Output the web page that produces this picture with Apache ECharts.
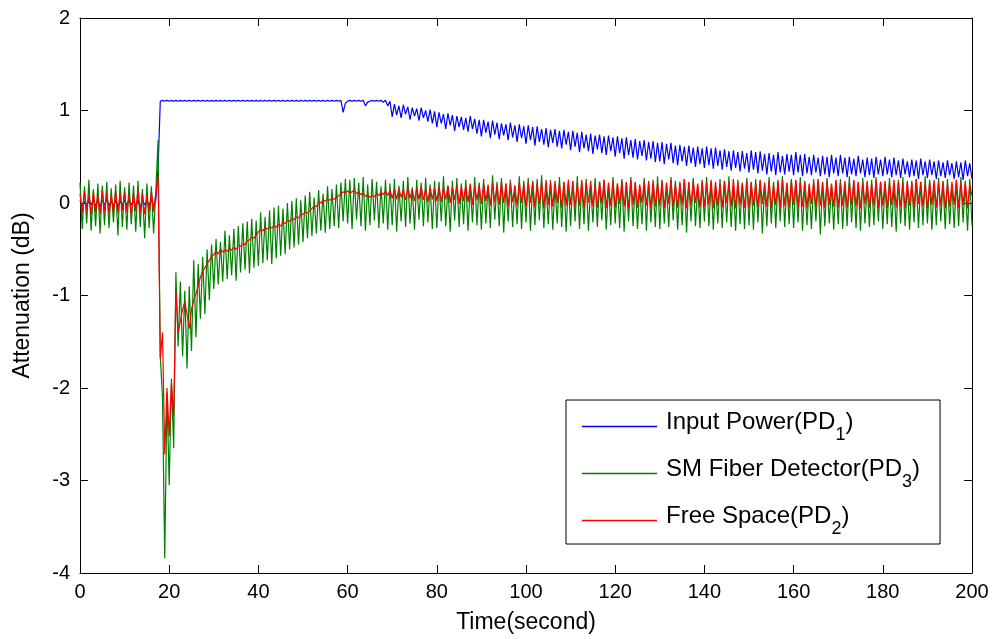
<!DOCTYPE html>
<html>
<head>
<meta charset="utf-8">
<script src="https://cdn.jsdelivr.net/npm/echarts@6/dist/echarts.min.js"></script>
<style>
  html, body { margin: 0; padding: 0; background: #fff; }
  #chart { width: 997px; height: 639px; }
</style>
</head>
<body>
<div id="chart"></div>
<script>
// samples every 0.5 s, t = 0 .. 200
var step = 0.5;
var xTicks = [0, 20, 40, 60, 80, 100, 120, 140, 160, 180, 200];
var yTicks = [-4, -3, -2, -1, 0, 1, 2];
var seriesNames = ['Input Power(PD1)', 'SM Fiber Detector(PD3)', 'Free Space(PD2)'];

var inputPower = [
  0.03,-0.03,0.02,-0.04,0.04,-0.02,0.03,-0.03,0.02,-0.04,0.03,-0.02,0.04,-0.03,0.02,-0.03,0.03,-0.04,0.02,-0.02,
  0.03,-0.03,0.04,-0.02,0.02,-0.03,0.03,-0.04,0.03,-0.02,0.02,-0.03,0.04,-0.03,0.03,0.37,1.10,1.11,1.10,1.11,
  1.10,1.11,1.10,1.11,1.10,1.11,1.10,1.11,1.10,1.11,1.10,1.11,1.10,1.11,1.10,1.11,1.10,1.11,1.10,1.11,
  1.10,1.11,1.10,1.11,1.10,1.11,1.10,1.11,1.10,1.11,1.10,1.11,1.10,1.11,1.10,1.11,1.10,1.11,1.10,1.11,
  1.10,1.11,1.10,1.11,1.10,1.11,1.10,1.11,1.10,1.11,1.10,1.11,1.10,1.11,1.10,1.11,1.10,1.11,1.10,1.11,
  1.10,1.11,1.10,1.11,1.10,1.11,1.10,1.11,1.10,1.11,1.10,1.11,1.10,1.11,1.10,1.11,1.10,1.11,0.98,1.08,
  1.10,1.11,1.10,1.11,1.10,1.11,1.10,1.11,1.05,1.09,1.10,1.11,1.10,1.11,1.10,1.11,1.09,1.11,1.05,1.10,
  0.93,1.07,0.95,1.05,0.92,1.06,0.96,1.04,0.90,1.03,0.94,1.02,0.89,1.03,0.92,1.00,0.88,1.01,0.86,0.99,
  0.82,0.98,0.86,0.96,0.80,0.97,0.84,0.95,0.78,0.94,0.82,0.93,0.79,0.92,0.77,0.94,0.80,0.91,0.75,0.90,
  0.72,0.90,0.76,0.88,0.70,0.89,0.74,0.87,0.69,0.86,0.73,0.85,0.68,0.87,0.71,0.84,0.66,0.85,0.70,0.83,
  0.64,0.84,0.68,0.82,0.62,0.83,0.66,0.80,0.63,0.81,0.60,0.79,0.65,0.80,0.61,0.78,0.59,0.79,0.63,0.77,
  0.57,0.78,0.61,0.76,0.55,0.77,0.59,0.74,0.56,0.75,0.53,0.73,0.58,0.74,0.54,0.72,0.52,0.73,0.56,0.71,
  0.50,0.72,0.54,0.70,0.48,0.71,0.52,0.68,0.49,0.69,0.47,0.67,0.51,0.68,0.46,0.66,0.48,0.67,0.44,0.65,
  0.45,0.66,0.42,0.64,0.47,0.65,0.43,0.62,0.41,0.63,0.45,0.61,0.40,0.62,0.43,0.60,0.39,0.61,0.42,0.59,
  0.38,0.61,0.41,0.59,0.37,0.60,0.40,0.57,0.36,0.58,0.39,0.56,0.35,0.57,0.38,0.55,0.34,0.56,0.37,0.54,
  0.33,0.57,0.36,0.55,0.32,0.56,0.35,0.53,0.31,0.54,0.34,0.52,0.30,0.55,0.33,0.51,0.31,0.53,0.34,0.52,
  0.30,0.55,0.33,0.52,0.29,0.53,0.32,0.50,0.30,0.52,0.33,0.49,0.29,0.51,0.31,0.50,0.28,0.52,0.32,0.49,
  0.29,0.52,0.32,0.49,0.28,0.50,0.31,0.48,0.29,0.51,0.32,0.47,0.28,0.49,0.30,0.48,0.27,0.50,0.31,0.47,
  0.29,0.50,0.31,0.47,0.28,0.49,0.30,0.46,0.27,0.48,0.31,0.45,0.28,0.47,0.29,0.46,0.26,0.48,0.30,0.45,
  0.27,0.47,0.30,0.45,0.26,0.46,0.29,0.44,0.27,0.46,0.30,0.43,0.26,0.45,0.28,0.44,0.25,0.46,0.29,0.43,
  0.26
];

var smFiber = [
  0.22,-0.28,0.18,-0.22,0.25,-0.30,0.15,-0.25,0.21,-0.33,0.19,-0.24,0.23,-0.27,0.16,-0.21,0.20,-0.35,0.24,-0.26,
  0.17,-0.29,0.22,-0.23,0.19,-0.31,0.24,-0.26,0.15,-0.38,0.21,-0.27,0.18,-0.33,0.12,0.68,-1.66,-2.10,-3.84,-2.05,
  -3.05,-1.90,-2.65,-0.75,-1.55,-0.85,-1.66,-0.95,-1.79,-0.90,-1.60,-0.62,-1.45,-0.66,-1.25,-0.58,-1.20,-0.50,-1.05,-0.45,
  -0.93,-0.39,-0.88,-0.42,-0.85,-0.30,-0.82,-0.35,-0.78,-0.28,-0.84,-0.25,-0.75,-0.22,-0.72,-0.20,-0.76,-0.17,-0.70,-0.19,
  -0.68,-0.10,-0.65,-0.15,-0.62,-0.08,-0.66,-0.05,-0.60,-0.03,-0.57,-0.06,-0.55,0.00,-0.50,0.02,-0.48,0.05,-0.45,0.03,
  -0.42,0.08,-0.38,0.12,-0.36,0.06,-0.33,0.14,-0.30,0.10,-0.32,0.18,-0.28,0.15,-0.25,0.20,-0.27,0.22,-0.20,0.26,
  -0.22,0.25,-0.28,0.27,-0.18,0.22,-0.25,0.28,-0.30,0.20,-0.24,0.26,-0.19,0.23,-0.27,0.18,-0.22,0.25,-0.29,0.21,
  -0.24,0.26,-0.31,0.19,-0.20,0.24,-0.26,0.28,-0.22,0.17,-0.29,0.25,-0.18,0.22,-0.25,0.27,-0.21,0.20,-0.28,0.24,
  -0.27,0.23,-0.20,0.29,-0.25,0.18,-0.31,0.24,-0.19,0.27,-0.26,0.21,-0.23,0.25,-0.30,0.19,-0.21,0.28,-0.24,0.22,
  -0.29,0.26,-0.22,0.20,-0.27,0.30,-0.18,0.23,-0.25,0.27,-0.32,0.21,-0.20,0.25,-0.26,0.18,-0.23,0.29,-0.28,0.24,
  -0.21,0.27,-0.30,0.22,-0.24,0.26,-0.19,0.30,-0.27,0.20,-0.23,0.25,-0.29,0.19,-0.22,0.28,-0.26,0.23,-0.31,0.21,
  -0.25,0.24,-0.20,0.29,-0.28,0.22,-0.23,0.26,-0.30,0.19,-0.21,0.27,-0.26,0.23,-0.19,0.25,-0.29,0.20,-0.24,0.28,
  -0.22,0.21,-0.27,0.26,-0.31,0.23,-0.20,0.28,-0.25,0.22,-0.28,0.18,-0.23,0.27,-0.30,0.24,-0.21,0.20,-0.26,0.29,
  -0.28,0.25,-0.22,0.20,-0.26,0.28,-0.19,0.24,-0.29,0.21,-0.24,0.26,-0.32,0.23,-0.20,0.27,-0.25,0.19,-0.27,0.25,
  -0.20,0.28,-0.25,0.23,-0.29,0.19,-0.22,0.26,-0.27,0.24,-0.21,0.29,-0.26,0.20,-0.30,0.25,-0.23,0.22,-0.28,0.27,
  -0.24,0.22,-0.29,0.26,-0.21,0.24,-0.33,0.20,-0.25,0.28,-0.22,0.23,-0.27,0.25,-0.20,0.29,-0.26,0.21,-0.23,0.26,
  -0.27,0.24,-0.21,0.28,-0.30,0.22,-0.24,0.19,-0.28,0.26,-0.20,0.25,-0.34,0.23,-0.25,0.27,-0.22,0.20,-0.29,0.24,
  -0.23,0.26,-0.28,0.21,-0.25,0.29,-0.21,0.24,-0.27,0.22,-0.30,0.27,-0.22,0.19,-0.26,0.25,-0.24,0.28,-0.20,0.23,
  -0.28,0.22,-0.23,0.27,-0.26,0.20,-0.31,0.25,-0.22,0.28,-0.25,0.21,-0.29,0.24,-0.21,0.26,-0.27,0.23,-0.24,0.29,
  -0.22,0.25,-0.29,0.21,-0.24,0.27,-0.20,0.23,-0.28,0.26,-0.23,0.20,-0.27,0.24,-0.25,0.28,-0.21,0.22,-0.30,0.26,
  -0.24
];

var freeSpace = [
  0.10,-0.11,0.13,-0.08,0.09,-0.13,0.12,-0.10,0.08,-0.12,0.14,-0.09,0.11,-0.12,0.09,-0.10,0.13,-0.11,0.10,-0.08,
  0.12,-0.10,0.09,-0.13,0.11,-0.09,0.14,-0.11,0.10,-0.12,0.08,-0.10,0.13,-0.09,0.11,0.29,-1.68,-1.40,-2.72,-2.00,
  -2.52,-1.95,-2.30,-0.95,-1.40,-1.28,-1.15,-1.07,-1.20,-1.36,-1.15,-1.05,-0.98,-0.90,-0.80,-0.74,-0.70,-0.66,-0.62,-0.58,
  -0.56,-0.52,-0.55,-0.50,-0.53,-0.51,-0.52,-0.49,-0.51,-0.48,-0.50,-0.46,-0.47,-0.44,-0.45,-0.41,-0.40,-0.37,-0.38,-0.35,
  -0.31,-0.29,-0.30,-0.27,-0.28,-0.26,-0.27,-0.25,-0.26,-0.23,-0.25,-0.21,-0.22,-0.19,-0.20,-0.17,-0.18,-0.15,-0.16,-0.13,
  -0.12,-0.10,-0.11,-0.08,-0.06,-0.03,-0.04,0.01,0.00,0.03,0.02,0.04,0.03,0.05,0.04,0.06,0.08,0.10,0.12,0.11,
  0.13,0.11,0.12,0.14,0.10,0.12,0.09,0.11,0.07,0.09,0.06,0.08,0.07,0.10,0.08,0.12,0.09,0.13,0.08,0.14,
  0.05,0.15,0.04,0.16,0.06,0.14,0.03,0.17,0.05,0.15,0.02,0.16,0.04,0.18,0.03,0.15,0.01,0.17,0.04,0.16,
  0.02,0.18,0.01,0.16,0.04,0.19,0.00,0.17,0.03,0.20,-0.01,0.18,0.02,0.19,0.01,0.21,-0.02,0.18,0.03,0.20,
  -0.01,0.21,0.02,0.19,-0.03,0.22,0.01,0.20,-0.02,0.23,0.00,0.21,-0.04,0.22,0.01,0.19,-0.03,0.23,0.00,0.21,
  -0.04,0.22,0.00,0.24,-0.05,0.21,-0.01,0.23,-0.06,0.25,-0.02,0.22,-0.04,0.24,0.00,0.21,-0.05,0.23,-0.03,0.25,
  -0.02,0.23,-0.05,0.21,-0.03,0.25,-0.06,0.22,0.00,0.24,-0.04,0.20,-0.05,0.23,-0.01,0.25,-0.06,0.22,-0.03,0.24,
  -0.05,0.21,-0.01,0.24,-0.04,0.22,-0.06,0.25,-0.02,0.23,-0.05,0.20,0.00,0.24,-0.03,0.22,-0.06,0.25,-0.04,0.21,
  -0.03,0.24,-0.06,0.22,-0.01,0.25,-0.04,0.21,-0.05,0.23,-0.02,0.26,-0.06,0.22,-0.03,0.24,0.00,0.21,-0.05,0.23,
  -0.04,0.22,-0.02,0.25,-0.06,0.23,-0.03,0.21,-0.05,0.24,0.00,0.22,-0.04,0.26,-0.06,0.23,-0.02,0.21,-0.05,0.24,
  -0.06,0.23,-0.03,0.21,-0.05,0.25,-0.01,0.22,-0.04,0.24,-0.06,0.20,-0.02,0.23,-0.05,0.25,-0.03,0.22,-0.06,0.24,
  -0.02,0.25,-0.05,0.22,-0.04,0.24,-0.06,0.21,-0.01,0.23,-0.05,0.26,-0.03,0.22,-0.06,0.24,-0.02,0.21,-0.04,0.25,
  -0.05,0.22,-0.03,0.24,-0.06,0.21,-0.02,0.25,-0.04,0.23,-0.06,0.22,-0.01,0.24,-0.05,0.21,-0.03,0.25,-0.06,0.23,
  -0.03,0.24,-0.06,0.22,-0.02,0.25,-0.05,0.23,-0.04,0.21,-0.06,0.24,-0.03,0.22,-0.05,0.26,-0.01,0.23,-0.04,0.21,
  -0.06,0.23,-0.02,0.25,-0.05,0.22,-0.03,0.24,-0.06,0.21,-0.04,0.23,-0.02,0.25,-0.05,0.22,-0.03,0.24,-0.06,0.20,
  0.08
];

var fontFam = "'Liberation Sans', Arial, sans-serif";

function toPoints(arr) {
  return arr.map(function (v, i) { return [i * step, v]; });
}

// legend label with subscript digit: "Input Power(PD1)" -> PD + sub 1
function legendLabel(name) {
  var m = name.match(/^(.*PD)(\d)(\))$/);
  return '{n|' + m[1] + '}{s|' + m[2] + '}{n|' + m[3] + '}';
}

var chart = echarts.init(document.getElementById('chart'));

var axisCommonX = {
  type: 'value',
  min: xTicks[0],
  max: xTicks[xTicks.length - 1],
  interval: 20,
  splitLine: { show: false },
  axisLine: { onZero: false, lineStyle: { color: '#000', width: 1 } },
  axisTick: { inside: true, length: 8, lineStyle: { color: '#000' } },
};
var axisCommonY = {
  type: 'value',
  min: yTicks[0],
  max: yTicks[yTicks.length - 1],
  interval: 1,
  splitLine: { show: false },
  axisLine: { onZero: false, lineStyle: { color: '#000', width: 1 } },
  axisTick: { inside: true, length: 8, lineStyle: { color: '#000' } },
};

var option = {
  backgroundColor: '#fff',
  animation: false,
  grid: { left: 80, right: 25, top: 18, bottom: 64 },
  xAxis: [
    Object.assign({}, axisCommonX, {
      position: 'bottom',
      name: 'Time(second)',
      nameLocation: 'middle',
      nameGap: 38,
      nameTextStyle: { fontFamily: fontFam, fontSize: 23, color: '#000' },
      axisLabel: { margin: 9, fontFamily: fontFam, fontSize: 20, color: '#000' },
    }),
    Object.assign({}, axisCommonX, {
      position: 'top',
      axisLabel: { show: false },
    }),
  ],
  yAxis: [
    Object.assign({}, axisCommonY, {
      position: 'left',
      name: 'Attenuation (dB)',
      nameLocation: 'middle',
      nameGap: 46,
      nameTextStyle: { fontFamily: fontFam, fontSize: 23, color: '#000' },
      axisLabel: { margin: 10, fontFamily: fontFam, fontSize: 20, color: '#000' },
    }),
    Object.assign({}, axisCommonY, {
      position: 'right',
      axisLabel: { show: false },
    }),
  ],
  legend: {
    orient: 'vertical',
    left: 566,
    top: 400,
    padding: [8, 20, 6, 16],
    itemGap: 11,
    itemWidth: 75,
    itemHeight: 1.5,
    icon: 'rect',
    borderColor: '#000',
    borderWidth: 1,
    backgroundColor: '#fff',
    formatter: legendLabel,
    textStyle: {
      padding: [0, 0, 0, 4],
      rich: {
        n: { fontFamily: fontFam, fontSize: 24, color: '#000', lineHeight: 37, verticalAlign: 'top', padding: [2, 0, 0, 0] },
        s: { fontFamily: fontFam, fontSize: 18, color: '#000', lineHeight: 37, verticalAlign: 'top', padding: [18, 0, 0, 0] },
      },
    },
    data: seriesNames,
  },
  series: [
    {
      name: seriesNames[0],
      type: 'line',
      data: toPoints(inputPower),
      showSymbol: false,
      color: '#0000ff',
      lineStyle: { width: 1.2, color: '#0000ff' },
      z: 2,
    },
    {
      name: seriesNames[1],
      type: 'line',
      data: toPoints(smFiber),
      showSymbol: false,
      color: '#008000',
      lineStyle: { width: 1.2, color: '#008000' },
      z: 3,
    },
    {
      name: seriesNames[2],
      type: 'line',
      data: toPoints(freeSpace),
      showSymbol: false,
      color: '#ff0000',
      lineStyle: { width: 1.2, color: '#ff0000' },
      z: 4,
    },
  ],
};

chart.setOption(option);
</script>
</body>
</html>
